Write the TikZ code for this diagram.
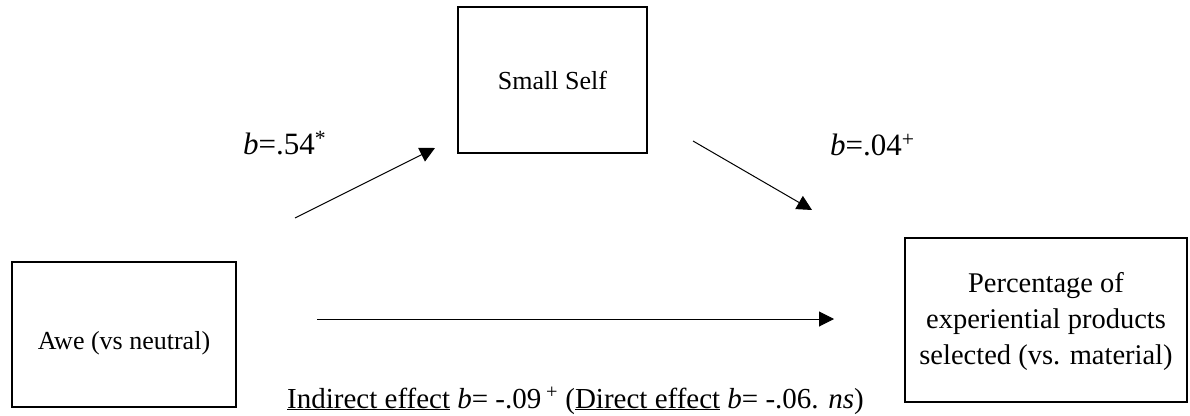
\documentclass[tikz,border=0pt]{standalone}
\usepackage{fontspec}
\setmainfont{Liberation Serif}
\usetikzlibrary{arrows.meta}
\tikzset{
  box/.style={draw=black, line width=2.2pt, fill=white, inner sep=0pt, align=center},
  arr/.style={line width=1pt, -{Triangle[length=15pt,width=15pt]}},
  lbl/.style={inner sep=0pt, font=\fontsize{31}{36}\selectfont},
}
\begin{document}
\begin{tikzpicture}[x=1pt,y=-1pt]
\useasboundingbox (0,0) rectangle (1190,415);
\node[box, minimum width=189pt, minimum height=146pt, font=\fontsize{26}{31}\selectfont] (small) at (552.5,80) {Small Self};
\node[box, minimum width=224pt, minimum height=145pt, font=\fontsize{26}{31}\selectfont] (awe) at (124,334.5) {\raisebox{-14.5pt}[0pt][0pt]{Awe (vs neutral)}};
\node[box, minimum width=282pt, minimum height=164pt, font=\fontsize{28.5}{36}\selectfont] (pct) at (1046,320) {\raisebox{-8pt}[0pt][0pt]{\begin{tabular}{@{}c@{}}Percentage of\\experiential products\\selected (vs. material)\end{tabular}}};
\coordinate (a1s) at (295,218);
\coordinate (a1e) at (435,148);
\coordinate (a2s) at (693,141);
\coordinate (a2e) at (812,210);
\coordinate (a3s) at (317,319);
\coordinate (a3e) at (834,319);
\draw[arr] (a1s) -- (a1e);
\draw[arr] (a2s) -- (a2e);
\draw[arr] (a3s) -- (a3e);
\node[lbl, anchor=west] (l1) at (243,143) {\textit{b}=.54\textsuperscript{*}};
\node[lbl, anchor=west] (l2) at (830,145) {\textit{b}=.04\textsuperscript{+}};
\node[inner sep=0pt, anchor=base west, font=\fontsize{29}{34}\selectfont] (eff) at (287,408) {\underline{Indirect effect} \textit{b}= -.09\,\textsuperscript{+} (\underline{Direct effect} \textit{b}= -.06. \textit{ns})};
\end{tikzpicture}
\end{document}
